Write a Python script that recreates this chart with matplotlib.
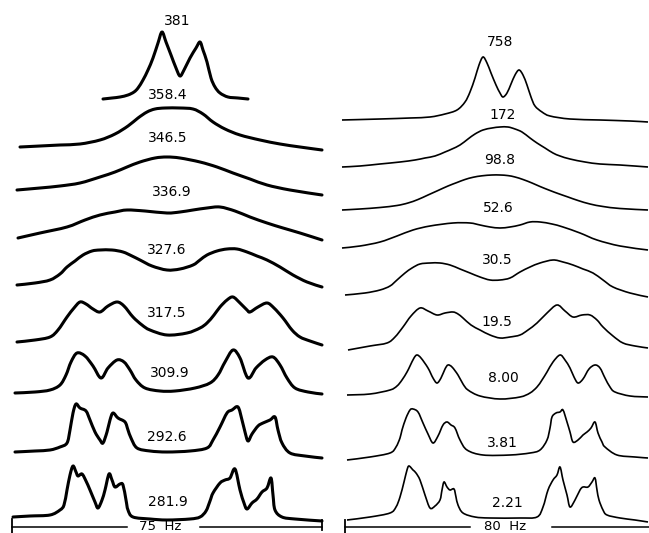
import numpy as np
import matplotlib.pyplot as plt
from matplotlib.path import Path
from matplotlib.patches import PathPatch

# traces: (horizontal position, vertical position) in picture units
# left panel: observed spectra, temperature in K
obs_381 = [(103, 99), (112, 98), (120, 97), (128, 95), (134, 92), (138, 88), (143, 80), (148, 70), (153, 58),
           (158, 43), (162, 32), (166, 42), (171, 55), (176, 68), (180, 76), (184, 70), (190, 58), (196, 48),
           (200, 42), (203, 50), (207, 62), (211, 78), (215, 87), (220, 93), (228, 97), (238, 98), (248, 99)]
obs_358 = [(20, 147), (40, 146), (60, 145), (80, 144), (100, 140), (115, 134), (128, 126), (138, 118), (147, 112),
           (155, 109), (165, 108), (180, 108), (193, 109), (203, 114), (213, 122), (225, 129), (240, 135),
           (260, 140), (280, 144), (300, 147), (322, 150)]
obs_346 = [(17, 190), (40, 188), (60, 186), (80, 183), (100, 177), (115, 172), (127, 167), (140, 162), (155, 158),
           (167, 157), (180, 158), (200, 162), (217, 167), (233, 173), (250, 179), (267, 185), (290, 190), (322, 195)]
obs_336 = [(18, 238), (40, 233), (67, 227), (85, 220), (100, 215), (115, 212), (127, 210), (145, 211), (167, 213),
           (180, 212), (193, 210), (207, 208), (220, 207), (235, 211), (250, 217), (267, 223), (283, 228),
           (300, 233), (322, 240)]
obs_327 = [(17, 285), (35, 283), (50, 280), (60, 274), (67, 267), (75, 261), (83, 255), (92, 251), (100, 250),
           (112, 250), (123, 252), (132, 256), (140, 260), (152, 266), (167, 270), (180, 269), (193, 265),
           (200, 260), (207, 255), (217, 251), (227, 249), (237, 249), (247, 252), (257, 256), (267, 260),
           (280, 267), (293, 275), (307, 282), (322, 287)]
obs_317 = [(17, 342), (35, 340), (50, 337), (58, 330), (67, 317), (74, 308), (80, 302), (86, 304), (93, 309),
           (100, 312), (108, 306), (117, 302), (124, 306), (133, 317), (142, 325), (150, 330), (167, 335),
           (187, 333), (200, 328), (207, 323), (214, 315), (220, 307), (227, 300), (233, 297), (240, 303),
           (247, 310), (250, 312), (258, 307), (267, 303), (274, 308), (283, 318), (292, 330), (300, 337),
           (310, 341), (322, 345)]
obs_309 = [(15, 393), (35, 392), (50, 390), (60, 385), (66, 375), (71, 362), (77, 353), (85, 356), (93, 366),
           (101, 378), (108, 368), (117, 360), (124, 362), (130, 370), (136, 380), (145, 388), (160, 391),
           (175, 391), (195, 388), (210, 383), (218, 375), (225, 362), (233, 350), (240, 358), (248, 378),
           (256, 368), (265, 360), (273, 357), (280, 365), (287, 378), (295, 388), (308, 392), (322, 394)]
obs_292 = [(15, 452), (35, 451), (50, 450), (60, 447), (67, 443), (70, 430), (73, 413), (76, 404), (80, 408),
           (86, 411), (90, 420), (95, 432), (100, 440), (103, 443), (107, 432), (110, 420), (113, 413), (118, 418),
           (125, 422), (128, 430), (131, 438), (137, 448), (150, 451), (167, 452), (190, 451), (207, 448),
           (213, 440), (220, 427), (227, 413), (232, 410), (238, 407), (242, 420), (245, 432), (248, 441),
           (252, 434), (258, 426), (263, 423), (270, 420), (275, 417), (278, 430), (282, 443), (290, 453),
           (305, 456), (322, 458)]
obs_281 = [(13, 517), (30, 516), (50, 515), (60, 510), (64, 505), (67, 490), (70, 475), (73, 466), (76, 472),
           (78, 476), (82, 474), (86, 481), (90, 490), (95, 502), (98, 508), (102, 500), (105, 490), (109, 474),
           (112, 480), (115, 487), (120, 484), (123, 485), (126, 500), (128, 510), (133, 517), (150, 519),
           (167, 520), (190, 519), (200, 517), (206, 511), (210, 501), (213, 493), (220, 483), (225, 480),
           (230, 478), (235, 469), (240, 490), (244, 503), (247, 509), (252, 503), (257, 499), (262, 492),
           (267, 488), (271, 478), (273, 495), (275, 510), (282, 517), (295, 519), (322, 521)]

# right panel: calculated spectra, exchange rate in s^-1
calc_758 = [(342, 120), (380, 119), (410, 118), (430, 117), (445, 114), (457, 110), (465, 102), (470, 92),
            (475, 78), (479, 65), (483, 57), (487, 63), (491, 73), (496, 85), (500, 93), (503, 97), (507, 93),
            (511, 84), (515, 75), (519, 70), (523, 75), (527, 85), (531, 97), (535, 106), (542, 112), (550, 116),
            (570, 119), (600, 120), (630, 121), (648, 122)]
calc_172 = [(342, 167), (360, 166), (380, 164), (400, 162), (415, 160), (425, 158), (435, 156), (445, 152),
            (452, 149), (460, 145), (468, 139), (475, 134), (483, 130), (492, 128), (500, 127), (508, 127),
            (515, 129), (522, 132), (530, 138), (537, 143), (545, 148), (553, 153), (560, 156), (570, 159),
            (585, 162), (600, 164), (620, 165), (648, 167)]
calc_98 = [(342, 210), (360, 209), (380, 207.5), (397, 205.5), (408, 203), (418, 199.5), (428, 195), (438, 190.5),
           (448, 186), (457, 182.5), (465, 179.5), (473, 177.3), (482, 175.8), (492, 175), (500, 175), (508, 175.6),
           (515, 177), (523, 179.5), (532, 183), (540, 186.5), (550, 190.5), (558, 193.5), (568, 197), (578, 200.5),
           (590, 204), (603, 206.5), (620, 208.5), (648, 210)]
calc_52 = [(342, 248), (360, 246), (380, 242), (397, 236), (413, 230), (430, 226), (453, 223), (470, 223),
           (480, 225), (490, 227), (500, 228), (510, 227), (520, 225), (530, 222), (540, 222), (552, 224),
           (563, 227), (580, 233), (597, 240), (620, 246), (648, 250)]
calc_30 = [(345, 295), (365, 293), (380, 290), (390, 286), (397, 280), (405, 273), (412, 268), (420, 264),
           (430, 263), (440, 263), (450, 265), (460, 269), (470, 273), (480, 277), (490, 280), (500, 280),
           (510, 278), (520, 272), (530, 267), (540, 263), (553, 260), (563, 262), (573, 265), (583, 269),
           (593, 273), (603, 280), (613, 287), (630, 293), (648, 297)]
calc_19 = [(348, 350), (370, 346), (387, 343), (395, 337), (403, 327), (411, 316), (420, 308), (428, 311),
           (437, 315), (445, 313), (453, 312), (458, 314), (463, 318), (471, 325), (480, 330), (490, 335),
           (500, 338), (510, 337), (520, 335), (528, 330), (537, 323), (547, 313), (557, 305), (565, 311),
           (573, 317), (582, 315), (590, 315), (597, 320), (603, 327), (613, 336), (623, 343), (635, 346), (648, 348)]
calc_8 = [(347, 395), (370, 394), (390, 390), (397, 386), (402, 380), (407, 372), (410, 366), (414, 358),
          (417, 355), (421, 358), (428, 368), (433, 378), (437, 383), (441, 378), (445, 369), (448, 365),
          (452, 367), (458, 375), (463, 384), (468, 390), (480, 396), (500, 399), (520, 397), (530, 393),
          (537, 387), (542, 380), (547, 372), (553, 362), (560, 355), (565, 360), (570, 368), (574, 377),
          (578, 383), (583, 379), (589, 369), (595, 365), (600, 368), (605, 378), (610, 387), (615, 392),
          (630, 396), (648, 397)]
calc_3 = [(347, 460), (370, 457), (390, 453), (396, 447), (400, 438), (402, 430), (406, 418), (410, 410),
          (413, 409), (418, 412), (423, 423), (428, 434), (433, 443), (438, 436), (443, 425), (447, 422),
          (451, 425), (455, 428), (460, 440), (467, 450), (483, 455), (510, 455), (530, 453), (540, 450),
          (547, 440), (550, 428), (552, 417), (556, 413), (560, 412), (563, 410), (567, 422), (570, 432),
          (573, 442), (578, 440), (583, 435), (587, 432), (591, 428), (595, 422), (598, 433), (602, 442),
          (605, 447), (617, 455), (635, 457), (648, 458)]
calc_2 = [(347, 520), (370, 517), (390, 513), (396, 507), (400, 497), (404, 482), (407, 470), (409, 466),
          (413, 470), (416, 473), (420, 480), (425, 495), (430, 508), (435, 506), (440, 500), (442, 490),
          (444, 482), (447, 487), (450, 490), (454, 489), (456, 497), (458, 505), (463, 513), (475, 517),
          (490, 518), (520, 518), (537, 517), (543, 507), (548, 490), (553, 480), (557, 475), (560, 467),
          (563, 480), (567, 495), (570, 507), (575, 500), (580, 490), (583, 487), (588, 487), (592, 482),
          (595, 478), (597, 490), (599, 500), (603, 510), (607, 515), (620, 518), (635, 520), (648, 522)]

left_labels = ['381', '358.4', '346.5', '336.9', '327.6', '317.5', '309.9', '292.6', '281.9']
left_label_pos = [(177, 21), (168, 95), (168, 138), (172, 192), (167, 250), (167, 313), (170, 373), (167, 437), (168, 502)]
right_labels = ['758', '172', '98.8', '52.6', '30.5', '19.5', '8.00', '3.81', '2.21']
right_label_pos = [(500, 42), (503, 115), (500, 160), (498, 208), (497, 260), (497, 322), (503, 378), (502, 443), (507, 503)]

left_traces = [obs_381, obs_358, obs_346, obs_336, obs_327, obs_317, obs_309, obs_292, obs_281]
right_traces = [calc_758, calc_172, calc_98, calc_52, calc_30, calc_19, calc_8, calc_3, calc_2]


def smooth_path(pts):
    # bezier curve through every read point (catmull-rom tangents)
    p = np.array(pts, dtype=float)
    verts = [p[0]]
    codes = [Path.MOVETO]
    for i in range(len(p) - 1):
        p0 = p[i - 1] if i > 0 else p[i]
        p3 = p[i + 2] if i + 2 < len(p) else p[i + 1]
        c1 = p[i] + (p[i + 1] - p0) / 6
        c2 = p[i + 1] - (p3 - p[i]) / 6
        verts += [c1, c2, p[i + 1]]
        codes += [Path.CURVE4] * 3
    return Path(verts, codes)


fig = plt.figure(figsize=(6.49, 5.33), dpi=100)
ax = fig.add_axes([0, 0, 1, 1])
ax.set_xlim(0, 649)
ax.set_ylim(533, 0)
ax.axis('off')

for tr in left_traces:
    ax.add_patch(PathPatch(smooth_path(tr), fill=False, edgecolor='black', lw=2.2,
                           joinstyle='round', capstyle='round'))
for tr in right_traces:
    ax.add_patch(PathPatch(smooth_path(tr), fill=False, edgecolor='black', lw=1.2))

for lab, (x, y) in zip(left_labels, left_label_pos):
    ax.text(x, y, lab, ha='center', va='center', fontsize=10)
for lab, (x, y) in zip(right_labels, right_label_pos):
    ax.text(x, y, lab, ha='center', va='center', fontsize=10)

# frequency scale bars
ax.plot([12, 127], [527, 527], color='black', lw=1.1)
ax.plot([200, 322], [527, 527], color='black', lw=1.1)
ax.plot([12, 12], [519, 533], color='black', lw=1.3)
ax.plot([322, 322], [520, 530], color='black', lw=1.3)
ax.text(160, 527, '75  Hz', ha='center', va='center', fontsize=9.5)

ax.plot([345, 470], [527, 527], color='black', lw=1.1)
ax.plot([552, 649], [527, 527], color='black', lw=1.1)
ax.plot([345, 345], [520, 533], color='black', lw=1.3)
ax.text(505, 527, '80  Hz', ha='center', va='center', fontsize=9.5)

fig.savefig('out.png', dpi=100)
